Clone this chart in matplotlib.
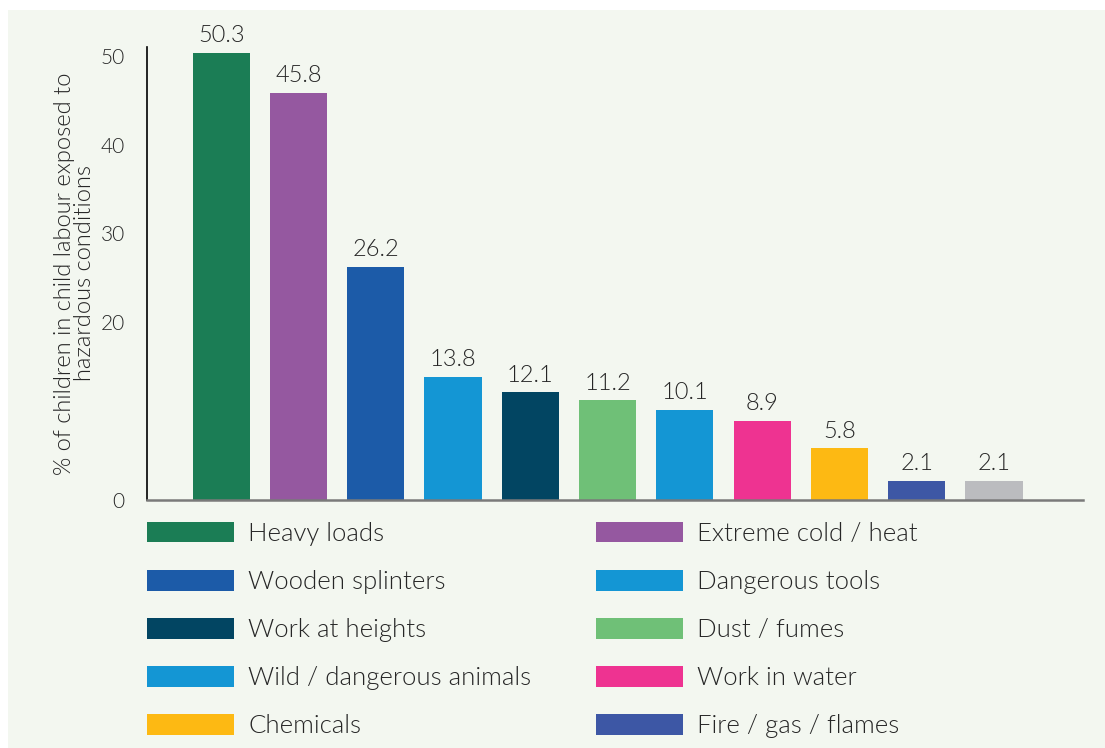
import matplotlib.pyplot as plt
from matplotlib.patches import Patch, Rectangle

plt.rcParams['font.family'] = ['Lato', 'DejaVu Sans']
plt.rcParams['font.weight'] = 300

# hazard categories, values (%) and bar colours
hazards = ['Heavy loads', 'Extreme cold / heat', 'Wooden splinters', 'Dangerous tools',
           'Work at heights', 'Dust / fumes', 'Wild / dangerous animals', 'Work in water',
           'Chemicals', 'Fire / gas / flames', '']
values = [50.3, 45.8, 26.2, 13.8, 12.1, 11.2, 10.1, 8.9, 5.8, 2.1, 2.1]
colors = ['#1b7d55', '#9558a0', '#1c5ba8', '#1496d4', '#024562', '#6fc077',
          '#1496d4', '#ee3391', '#fdb913', '#3d57a5', '#bbbcbf']
yticks = [0, 20, 30, 40, 50]

text_col = '#262626'
bg = '#f3f7f0'

fig = plt.figure(figsize=(11.05, 7.48), dpi=100, facecolor='white')
# light panel behind everything
fig.add_artist(Rectangle((8 / 1105, 0), 1, 1 - 10 / 748, transform=fig.transFigure,
                         facecolor=bg, edgecolor='none', zorder=-10))

ax = fig.add_axes([0.133, 0.3316, 0.847, 0.6056])
ax.set_facecolor('none')

x = range(len(values))
bars = ax.bar(x, values, width=0.74, color=colors, zorder=2)

for b, v in zip(bars, values):
    ax.annotate(f'{v}', (b.get_x() + b.get_width() / 2, v), xytext=(0, 5),
                textcoords='offset points', ha='center', va='bottom',
                fontsize=17, color=text_col)

ax.set_xlim(-0.96, 11.15)
ax.set_ylim(0, 51)
ax.set_xticks([])
ax.set_yticks(yticks)
ax.tick_params(axis='y', length=0, pad=16, labelsize=15, labelcolor=text_col)

for s in ['top', 'right']:
    ax.spines[s].set_visible(False)
ax.spines['left'].set_color('black')
ax.spines['left'].set_linewidth(1.2)
ax.spines['bottom'].set_color('#7a7a7a')
ax.spines['bottom'].set_linewidth(1.8)

ax.set_ylabel('% of children in child labour exposed to\nhazardous conditions',
              fontsize=17, fontweight=300, color=text_col, labelpad=4,
              linespacing=0.95)

# legend in two columns, gray bar has no entry
handles = [Patch(facecolor=c, edgecolor='none') for c in colors[:10]]
leg_kw = dict(frameon=False, handlelength=3.4, handleheight=0.85,
              handletextpad=0.55, labelspacing=0.93, borderpad=0, borderaxespad=0,
              loc='upper left', labelcolor=text_col,
              prop={'family': ['Lato', 'DejaVu Sans'], 'size': 18.5, 'weight': 300})
left = fig.legend(handles[0::2], hazards[0:10:2],
                  bbox_to_anchor=(147 / 1105, 1 - 522 / 748), **leg_kw)
right = fig.legend(handles[1::2], hazards[1:10:2],
                   bbox_to_anchor=(596 / 1105, 1 - 522 / 748), **leg_kw)

fig.savefig('out.png', dpi=100, facecolor=fig.get_facecolor())
